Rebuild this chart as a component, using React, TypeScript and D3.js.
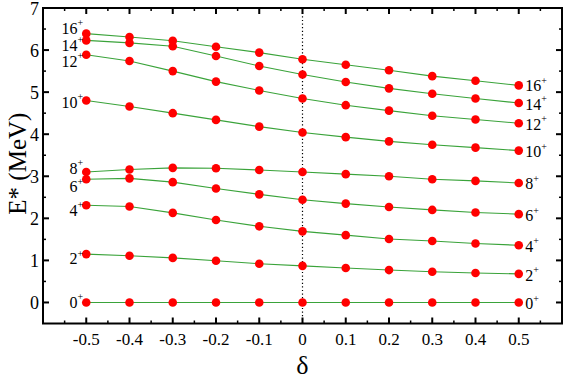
import * as d3 from 'd3';
import React from 'react';

// deformation parameter delta
const deltas = [-0.5, -0.4, -0.3, -0.2, -0.1, 0, 0.1, 0.2, 0.3, 0.4, 0.5];

// excitation energies (MeV) for each yrast level
const spins = ['0', '2', '4', '6', '8', '10', '12', '14', '16'];
const e0 = [0, 0, 0, 0, 0, 0, 0, 0, 0, 0, 0];
const e2 = [1.15, 1.11, 1.06, 0.99, 0.92, 0.87, 0.82, 0.77, 0.73, 0.7, 0.68];
const e4 = [2.31, 2.28, 2.13, 1.96, 1.81, 1.69, 1.6, 1.51, 1.46, 1.4, 1.36];
const e6 = [2.93, 2.95, 2.86, 2.71, 2.57, 2.44, 2.35, 2.27, 2.2, 2.14, 2.1];
const e8 = [3.1, 3.16, 3.2, 3.19, 3.15, 3.1, 3.05, 3.0, 2.93, 2.89, 2.84];
const e10 = [4.8, 4.66, 4.5, 4.34, 4.18, 4.04, 3.93, 3.83, 3.75, 3.68, 3.61];
const e12 = [5.89, 5.74, 5.5, 5.25, 5.04, 4.85, 4.69, 4.56, 4.44, 4.35, 4.26];
const e14 = [6.23, 6.17, 6.09, 5.86, 5.62, 5.42, 5.24, 5.09, 4.96, 4.85, 4.74];
const e16 = [6.39, 6.31, 6.22, 6.08, 5.94, 5.78, 5.65, 5.52, 5.38, 5.27, 5.16];
const levels = [e0, e2, e4, e6, e8, e10, e12, e14, e16];

const xTicks = [-0.5, -0.4, -0.3, -0.2, -0.1, 0, 0.1, 0.2, 0.3, 0.4, 0.5];
const yTicks = [0, 1, 2, 3, 4, 5, 6, 7];

// vertical nudges (px) for the spin labels so they don't collide
const leftDy = [5.5, 10, 10.5, 13, 1.5, 7, 12, 10.5, 0];
const rightDy = [7, 7, 6.5, 7, 6.5, 6.5, 6.5, 6.5, 6];

const W = 566;
const H = 379;
const FONT = "Liberation Serif, DejaVu Serif, serif";

const App = () => {
  const x = d3.scaleLinear().domain([-0.6, 0.6]).range([43, 562]);
  const y = d3.scaleLinear().domain([-0.5, 7]).range([323.5, 8]);
  const line = d3.line<number>()
    .x((d, i) => x(deltas[i]))
    .y((d) => y(d));

  const xMinor = d3.range(-0.55, 0.6, 0.1);
  const yMinor = d3.range(0.5, 7, 1);
  const [x0, x1] = x.range();
  const [y0, y1] = y.range();

  return (
    <svg width={W} height={H} style={{ position: 'absolute', left: 0, top: 0, background: '#fff' }}>
      {/* dotted line at delta = 0 */}
      <line x1={x(0)} x2={x(0)} y1={y0} y2={y1} stroke="#000" strokeWidth={1.2} strokeDasharray="1.2,2.4" />

      {levels.map((vals, k) => (
        <path key={'l' + k} d={line(vals) || ''} fill="none" stroke="#3aa33a" strokeWidth={1.1} />
      ))}
      {levels.map((vals, k) => vals.map((v, i) => (
        <circle key={`p${k}-${i}`} cx={x(deltas[i])} cy={y(v)} r={4.3} fill="#ff0000" />
      )))}

      <g fontFamily={FONT}>
        {/* spin labels */}
        {levels.map((vals, k) => (
          <text key={'ll' + k} x={x(deltas[0]) - 3} y={y(vals[0]) + leftDy[k]} fontSize={16} textAnchor="end">
            {spins[k]}<tspan fontSize={10} dy={-7.5}>+</tspan>
          </text>
        ))}
        {levels.map((vals, k) => (
          <text key={'rl' + k} x={x(deltas[deltas.length - 1]) + 6.5} y={y(vals[vals.length - 1]) + rightDy[k]} fontSize={16}>
            {spins[k]}<tspan fontSize={10} dy={-7.5}>+</tspan>
          </text>
        ))}
      </g>

      {/* frame */}
      <rect x={x0} y={y1} width={x1 - x0} height={y0 - y1} fill="none" stroke="#000" strokeWidth={2} />

      <g fontFamily={FONT}>
        {/* x ticks, inward on bottom and top */}
        {xTicks.map((t) => (
          <g key={'xt' + t}>
            <line x1={x(t)} x2={x(t)} y1={y0} y2={y0 - 6} stroke="#000" strokeWidth={2} />
            <line x1={x(t)} x2={x(t)} y1={y1} y2={y1 + 6} stroke="#000" strokeWidth={2} />
            <text x={x(t)} y={y0 + 21.5} fontSize={17} textAnchor="middle">
              {t === 0 ? '0' : t.toFixed(1)}
            </text>
          </g>
        ))}
        {xMinor.map((t) => (
          <g key={'xm' + t}>
            <line x1={x(t)} x2={x(t)} y1={y0} y2={y0 - 3} stroke="#000" strokeWidth={1.5} />
            <line x1={x(t)} x2={x(t)} y1={y1} y2={y1 + 3} stroke="#000" strokeWidth={1.5} />
          </g>
        ))}

        {/* y ticks, inward on left and right */}
        {yTicks.map((t) => (
          <g key={'yt' + t}>
            <line x1={x0} x2={x0 + 6} y1={y(t)} y2={y(t)} stroke="#000" strokeWidth={2} />
            <line x1={x1} x2={x1 - 6} y1={y(t)} y2={y(t)} stroke="#000" strokeWidth={2} />
            <text x={x0 - 4} y={y(t) + 6.5} fontSize={18} textAnchor="end">{t}</text>
          </g>
        ))}
        {yMinor.map((t) => (
          <g key={'ym' + t}>
            <line x1={x0} x2={x0 + 3} y1={y(t)} y2={y(t)} stroke="#000" strokeWidth={1.5} />
            <line x1={x1} x2={x1 - 3} y1={y(t)} y2={y(t)} stroke="#000" strokeWidth={1.5} />
          </g>
        ))}

        {/* axis titles */}
        <text x={x(0)} y={374} fontSize={26} textAnchor="middle">δ</text>
        <text transform={`translate(26, ${y(3.3)}) rotate(-90)`} fontSize={25} textAnchor="middle">E* (MeV)</text>
      </g>
    </svg>
  );
};

export default App;
